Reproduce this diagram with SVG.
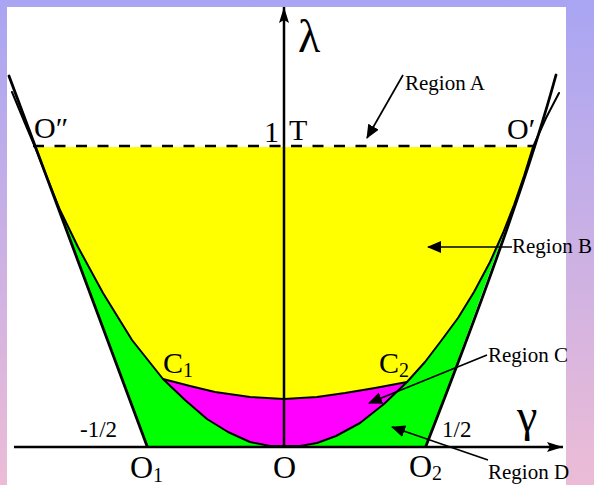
<svg xmlns="http://www.w3.org/2000/svg" width="594" height="485" viewBox="0 0 594 485">
<defs>
<linearGradient id="bg" x1="0" y1="0" x2="0" y2="1">
<stop offset="0" stop-color="#a9a5f3"/>
<stop offset="1" stop-color="#ecbcd6"/>
</linearGradient>
<marker id="ah" markerWidth="14" markerHeight="12" refX="13" refY="6" orient="auto" markerUnits="userSpaceOnUse"><path d="M0,0 L14,6 L0,12 Z" fill="#000"/></marker>
<marker id="axh" markerWidth="16" markerHeight="10" refX="16" refY="5" orient="auto" markerUnits="userSpaceOnUse"><path d="M0,0 L16,5 L0,10 L3,5 Z" fill="#000"/></marker>
<style>
.t{font-family:"Liberation Serif","Times New Roman",serif;fill:#000}
.big{font-size:30px}
.bigo{font-size:32px}
.sub{font-size:20px}
.greek{font-size:46px}
.lab{font-size:21px}
.frac{font-size:23px}
.edge{fill:none;stroke:#000;stroke-linejoin:round;stroke-linecap:round}
.arr{fill:none;stroke:#000;stroke-width:1.7;marker-end:url(#ah)}
</style>
</defs>
<rect x="0" y="0" width="594" height="485" fill="url(#bg)"/>
<rect x="7" y="7" width="559" height="478" fill="#fff"/>

<g id="regionD-fill">
<path d="M35,147 L147,446 L426,446 Q471,325 535,147 Z" fill="#00ff00"/>
</g>
<g id="regionC-fill">
<path d="M35,147 L48,180 L60,210 L78,247 L103,293 L132,340 L163,379 L185,400 L207,419 L228,432 L250,442 L270,446 L300,446 L317,443 L336,436 L360,423 L384,404 L407,382 L425,362 L441,341 L458,318 L474,292 L490,262 L503,233 L514,205 L524,176 L533,147 Z" fill="#ff00ff"/>
</g>
<g id="regionB-fill">
<path d="M35,147 L48,180 L60,210 L78,247 L103,293 L132,340 L163,379 L190,386 L215,392 L250,397 L284,399 L317,397 L345,393 L375,388 L407,382 L425,362 L441,341 L458,318 L474,292 L490,262 L503,233 L514,205 L524,176 L533,147 Z" fill="#ffff00"/>
</g>

<g id="boundaries">
<path class="edge" stroke-width="2.8" d="M9,76 L147,446"/>
<path class="edge" stroke-width="2.8" d="M556,75 Q522,200 426,446"/>
<path class="edge" stroke-width="2" d="M12,92 L24,121 L35,147 L48,180 L60,210 L78,247 L103,293 L132,340 L163,379 L185,400 L207,419 L228,432 L250,442 L270,446 L300,446 L317,443 L336,436 L360,423 L384,404 L407,382 L425,362 L441,341 L458,318 L474,292 L490,262 L503,233 L514,205 L524,176 L533,147 L546,118 L559,93"/>
<path class="edge" stroke-width="2" d="M163,379 L190,386 L215,392 L250,397 L284,399 L317,397 L345,393 L375,388 L407,382"/>
<path d="M33,146 L536,146" stroke="#000" stroke-width="2.5" stroke-dasharray="11 10.5" fill="none"/>
</g>

<g id="axes">
<path d="M14,447 L563,447" stroke="#000" stroke-width="2.5" fill="none" marker-end="url(#axh)"/>
<path d="M284,447 L284,7" stroke="#000" stroke-width="2.5" fill="none" marker-end="url(#axh)"/>
</g>

<g id="connectors">
<path class="arr" d="M403,75 L367,138"/>
<path class="arr" d="M512,247 L428,247"/>
<path class="arr" d="M487,355 L369,403"/>
<path class="arr" d="M488,460 L392,427"/>
</g>

<g id="labels">
<text class="t greek" x="298" y="52">λ</text>
<text class="t greek" x="517" y="431">γ</text>
<text class="t big" x="34" y="138">O″</text>
<text class="t big" x="507" y="139">O′</text>
<text class="t big" x="264" y="142">1</text>
<text class="t big" x="289" y="140">T</text>
<text class="t big" x="163" y="373">C<tspan class="sub" dy="4">1</tspan></text>
<text class="t big" x="379" y="373">C<tspan class="sub" dy="4">2</tspan></text>
<text class="t bigo" x="130" y="478">O<tspan class="sub" dy="4">1</tspan></text>
<text class="t bigo" x="284.5" y="478" text-anchor="middle">O</text>
<text class="t bigo" x="409" y="477">O<tspan class="sub" dy="3">2</tspan></text>
<text class="t frac" x="80" y="437">-1/2</text>
<text class="t frac" x="442" y="437">1/2</text>
</g>

<g id="regionA"><text class="t lab" x="405" y="90">Region A</text></g>
<g id="regionB"><text class="t lab" x="512" y="253">Region B</text></g>
<g id="regionC"><text class="t lab" x="488" y="362">Region C</text></g>
<g id="regionD"><text class="t lab" x="488" y="479">Region D</text></g>
</svg>
